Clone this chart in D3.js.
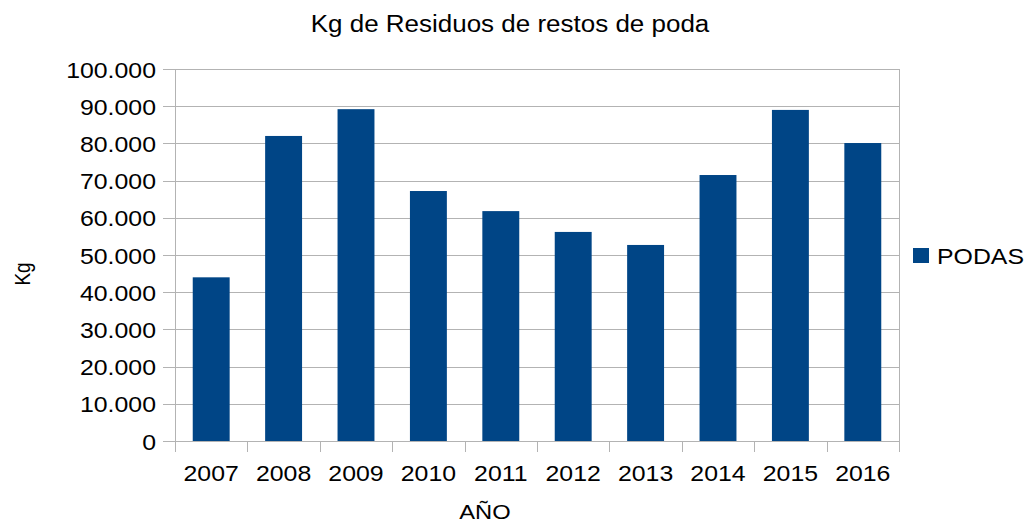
<!DOCTYPE html>
<html>
<head>
<meta charset="utf-8">
<script src="https://cdn.jsdelivr.net/npm/d3@7"></script>
<style>
  body { margin: 0; background: #fff; }
  svg { font-family: "Liberation Sans", Arial, sans-serif; }
</style>
</head>
<body>
<div id="chart"></div>
<script>
// ---- Data
const years = ['2007', '2008', '2009', '2010', '2011', '2012', '2013', '2014', '2015', '2016'];
const podas = [44000, 82000, 89200, 67200, 61800, 56200, 52700, 71500, 89000, 80100];
const yTicks = [0, 10000, 20000, 30000, 40000, 50000, 60000, 70000, 80000, 90000, 100000];

const width = 1028, height = 525;
const margin = { left: 175, right: 129, top: 69, bottom: 84 };
const plotW = width - margin.left - margin.right;
const plotH = height - margin.top - margin.bottom;
const barColor = '#004586';
const gridColor = '#b3b3b3';
// the source picture is slightly stretched horizontally, so text is too
const sx = 1.13;

const svg = d3.select('#chart')
    .append('svg')
    .attr('width', width)
    .attr('height', height);

const fmt = (v) => d3.format(',')(v).replace(/,/g, '.');

const x = d3.scaleBand().domain(years).range([0, plotW]).paddingInner(0.49).paddingOuter(0.245);
const xEdge = d3.scaleLinear().domain([0, years.length]).range([0, plotW]);
const y = d3.scaleLinear().domain([0, 100000]).range([plotH, 0]);

const g = svg.append('g').attr('transform', `translate(${margin.left},${margin.top})`);

// ---- Gridlines + y ticks
g.selectAll('.grid')
    .data(yTicks)
    .join('line')
    .attr('class', 'grid')
    .attr('x1', -12)
    .attr('x2', plotW)
    .attr('y1', (d) => Math.round(y(d)) + 0.5)
    .attr('y2', (d) => Math.round(y(d)) + 0.5)
    .style('stroke', gridColor)
    .style('stroke-width', 1);

// ---- Axis frame lines
g.append('line')
    .attr('x1', 0.5).attr('x2', 0.5)
    .attr('y1', 0).attr('y2', plotH + 11)
    .style('stroke', gridColor);
g.append('line')
    .attr('x1', plotW + 0.5).attr('x2', plotW + 0.5)
    .attr('y1', 0).attr('y2', plotH)
    .style('stroke', gridColor);

// ---- X ticks at category edges
g.selectAll('.xtick')
    .data(d3.range(years.length + 1))
    .join('line')
    .attr('class', 'xtick')
    .attr('x1', (i) => Math.round(xEdge(i)) + 0.5)
    .attr('x2', (i) => Math.round(xEdge(i)) + 0.5)
    .attr('y1', plotH)
    .attr('y2', plotH + 11)
    .style('stroke', gridColor);

// ---- Bars
g.selectAll('.bar')
    .data(podas)
    .join('rect')
    .attr('class', 'bar')
    .attr('x', (_d, i) => x(years[i]))
    .attr('width', x.bandwidth())
    .attr('y', (d) => y(d))
    .attr('height', (d) => plotH - y(d))
    .style('fill', barColor);

// ---- Y tick labels
g.selectAll('.ylabel')
    .data(yTicks)
    .join('text')
    .attr('class', 'ylabel')
    .attr('transform', (d) => `translate(-19,${y(d) + 8.5}) scale(${sx},1)`)
    .attr('text-anchor', 'end')
    .style('font-size', '22px')
    .text((d) => fmt(d));

// ---- X tick labels
g.selectAll('.xlabel')
    .data(years)
    .join('text')
    .attr('class', 'xlabel')
    .attr('transform', (d) => `translate(${x(d) + x.bandwidth() / 2},${plotH + 40}) scale(${sx},1)`)
    .attr('text-anchor', 'middle')
    .style('font-size', '22px')
    .text((d) => d);

// ---- Title and axis titles
svg.append('text')
    .attr('transform', `translate(510,32) scale(${sx},1)`)
    .attr('text-anchor', 'middle')
    .style('font-size', '23px')
    .text('Kg de Residuos de restos de poda');

svg.append('text')
    .attr('transform', `translate(485,519) scale(${sx},1)`)
    .attr('text-anchor', 'middle')
    .style('font-size', '21px')
    .text('AÑO');

svg.append('text')
    .attr('transform', `translate(30,274) scale(${sx},1) rotate(-90)`)
    .attr('text-anchor', 'middle')
    .style('font-size', '19px')
    .text('Kg');

// ---- Legend
svg.append('rect')
    .attr('x', 913)
    .attr('y', 248)
    .attr('width', 16)
    .attr('height', 15)
    .style('fill', barColor);
svg.append('text')
    .attr('transform', `translate(937,264) scale(${sx},1)`)
    .style('font-size', '22px')
    .text('PODAS');
</script>
</body>
</html>
